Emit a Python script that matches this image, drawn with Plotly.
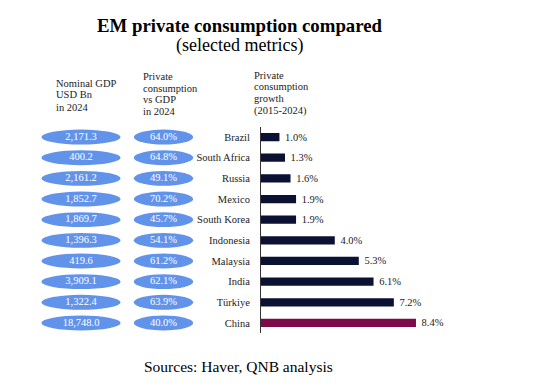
import plotly.graph_objects as go

countries = ["Brazil", "South Africa", "Russia", "Mexico", "South Korea",
             "Indonesia", "Malaysia", "India", "Türkiye", "China"]
gdp_usd_bn = [2171.3, 400.2, 2161.2, 1852.7, 1869.7, 1396.3, 419.6, 3909.1, 1322.4, 18748.0]
cons_vs_gdp = [64.0, 64.8, 49.1, 70.2, 45.7, 54.1, 61.2, 62.1, 63.9, 40.0]
cons_growth = [1.0, 1.3, 1.6, 1.9, 1.9, 4.0, 5.3, 6.1, 7.2, 8.4]
highlight = "China"

FONT = "Liberation Serif, Times New Roman, serif"
OFF = 8  # default page body margin
W, H = 560 - OFF, 388 - OFF
NAVY = "#0b1133"
MAROON = "#7d0a4a"
ELL = "#6193ea"

def px_x(v):
    return (v - OFF) / W

def px_y(v):
    return 1 - (v - OFF) / H

fig = go.Figure()

bar_colors = [MAROON if c == highlight else NAVY for c in countries]
fig.add_trace(go.Bar(
    x=cons_growth, y=countries, orientation="h",
    marker=dict(color=bar_colors, line=dict(width=0)),
    text=[f" {v:.1f}%" for v in cons_growth], textposition="outside",
    constraintext="none",
    textfont=dict(family=FONT, size=10.5, color="#222"),
    cliponaxis=False, hoverinfo="skip", showlegend=False,
    xaxis="x", yaxis="y",
))

cols = ["gdp", "share"]
fig.add_trace(go.Scatter(
    x=["gdp"] * len(countries), y=countries, mode="text",
    text=[f"{v:,.1f}" for v in gdp_usd_bn],
    textfont=dict(family=FONT, size=10.5, color="white"),
    xaxis="x2", yaxis="y", showlegend=False, hoverinfo="skip",
))
fig.add_trace(go.Scatter(
    x=["share"] * len(countries), y=countries, mode="text",
    text=[f"{v:.1f}%" for v in cons_vs_gdp],
    textfont=dict(family=FONT, size=10.5, color="white"),
    xaxis="x2", yaxis="y", showlegend=False, hoverinfo="skip",
))

shapes = []
half_w = {0: 0.48, 1: 0.36}
for i, _ in enumerate(countries):
    for ci in (0, 1):
        shapes.append(dict(
            type="circle", xref="x2", yref="y",
            x0=ci - half_w[ci], x1=ci + half_w[ci],
            y0=i - 0.36, y1=i + 0.36,
            fillcolor=ELL, line=dict(width=0), layer="below",
        ))

annotations = [
    dict(text="<b>EM private consumption compared</b>", x=px_x(240), y=px_y(25),
         font=dict(family=FONT, size=18.8, color="black")),
    dict(text="(selected metrics)", x=px_x(239), y=px_y(46),
         font=dict(family=FONT, size=18, color="black")),
    dict(text="Sources: Haver, QNB analysis", x=px_x(238), y=px_y(366),
         font=dict(family=FONT, size=15.5, color="black")),
]

headers = [
    (54, [("Nominal GDP", 83), ("USD Bn", 95), ("in 2024", 107)]),
    (141, [("Private", 76), ("consumption", 88), ("vs GDP", 100), ("in 2024", 112)]),
    (252, [("Private", 75), ("consumption", 87), ("growth", 99), ("(2015-2024)", 111)]),
]
for xp, lines in headers:
    for t, yp in lines:
        annotations.append(dict(text=t, x=px_x(xp), y=px_y(yp), xanchor="left",
                                font=dict(family=FONT, size=10.5, color="#222")))

for a in annotations:
    a.setdefault("xanchor", "center")
    a.update(xref="paper", yref="paper", yanchor="middle", showarrow=False)

y_top, y_bot = 126.7, 333.3
fig.update_layout(
    width=W, height=H,
    margin=dict(l=0, r=0, t=0, b=0),
    paper_bgcolor="white", plot_bgcolor="white",
    bargap=0.6,
    xaxis=dict(domain=[px_x(261), px_x(261 + 12 * 18.45)], range=[0, 12],
               visible=False, fixedrange=True),
    xaxis2=dict(domain=[px_x(39.75), px_x(204.75)], range=[-0.5, 1.5],
                type="category", categoryorder="array", categoryarray=cols,
                visible=False, anchor="y", fixedrange=True),
    yaxis=dict(domain=[px_y(y_bot), px_y(y_top)], type="category",
               categoryorder="array", categoryarray=countries,
               range=[len(countries) - 0.5, -0.5],
               showline=True, linecolor="#333", linewidth=1,
               showgrid=False, zeroline=False, ticks="",
               ticklabelstandoff=8,
               tickfont=dict(family=FONT, size=10.5, color="#222"),
               anchor="x", fixedrange=True),
    shapes=shapes, annotations=annotations,
    showlegend=False,
)

fig.write_html("out.html")
